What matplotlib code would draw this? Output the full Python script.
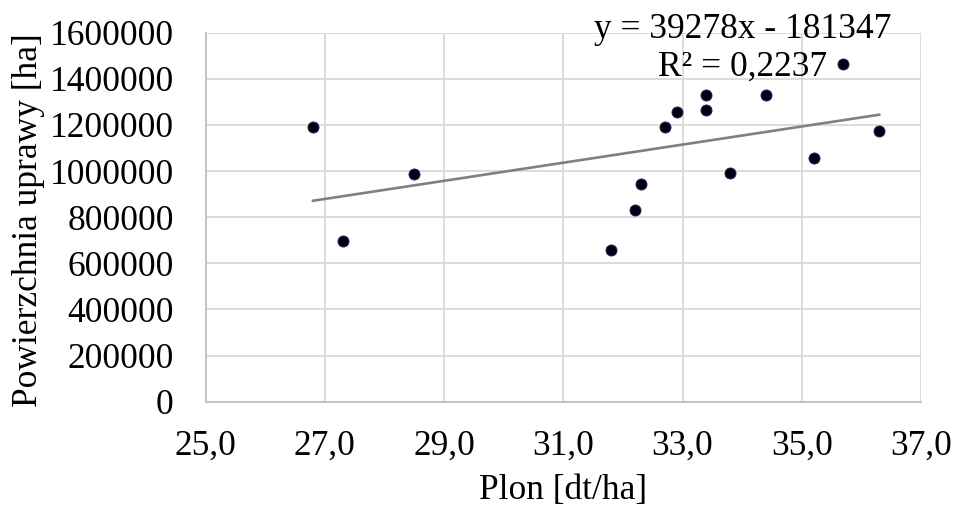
import matplotlib
matplotlib.use("Agg")
import matplotlib.pyplot as plt
import numpy as np

plt.rcParams['font.family'] = ['Liberation Serif', 'DejaVu Serif']

# Data
plon = [26.8, 27.3, 28.5, 31.8, 32.2, 32.3, 32.7, 32.9, 33.4, 33.4, 33.8, 34.4, 35.2, 35.7, 36.3]
powierzchnia = [1192000, 695000, 986000, 657000, 833000, 942000, 1191000, 1258000, 1330000, 1265000,
                990000, 1330000, 1055000, 1465000, 1173000]
slope = 39278
intercept = -181347
eq_text = "y = 39278x - 181347"
r2_text = "R² = 0,2237"
x_ticks = [25, 27, 29, 31, 33, 35, 37]
y_ticks = [0, 200000, 400000, 600000, 800000, 1000000, 1200000, 1400000, 1600000]

FS = 25.5

fig = plt.figure(figsize=(9.54, 5.07), dpi=100)
ax = fig.add_axes([0.2156, 0.2077, 0.7498, 0.7278])

ax.set_xlim(25, 37)
ax.set_ylim(0, 1600000)
ax.set_xticks(x_ticks)
ax.set_yticks(y_ticks)
ax.set_xticklabels([f"{v:.1f}".replace('.', ',') for v in x_ticks])
ax.set_yticklabels([str(v) for v in y_ticks])
ax.grid(True, color='#d9d9d9', linewidth=1.3)
ax.set_axisbelow(True)
for s in ['top', 'right']:
    ax.spines[s].set_visible(False)
for s in ['left', 'bottom']:
    ax.spines[s].set_color('#bfbfbf')
    ax.spines[s].set_linewidth(1.3)
ax.tick_params(length=0, labelsize=FS, colors='black')
ax.tick_params(axis='y', pad=23)
ax.tick_params(axis='x', pad=20)

xs = np.array([min(plon), max(plon)])
ax.plot(xs, slope * xs + intercept, color='#808080', linewidth=1.9, zorder=2)
ax.scatter(plon, powierzchnia, s=64, color='#000014', edgecolors='#2a2a60', linewidths=0.6, zorder=3)

fig.text(563 / 954, 1 - 491 / 507, "Plon [dt/ha]", fontsize=FS, ha='center', va='center')
fig.text(29 / 954, 1 - 220 / 507, "Powierzchnia uprawy [ha]", fontsize=FS, ha='center', va='center',
         rotation=90)

fig.text(742.5 / 954, 1 - 30 / 507, eq_text, fontsize=FS, ha='center', va='center')
fig.text(743 / 954, 1 - 67 / 507, r2_text, fontsize=FS, ha='center', va='center')

fig.savefig("out.png", dpi=100)
